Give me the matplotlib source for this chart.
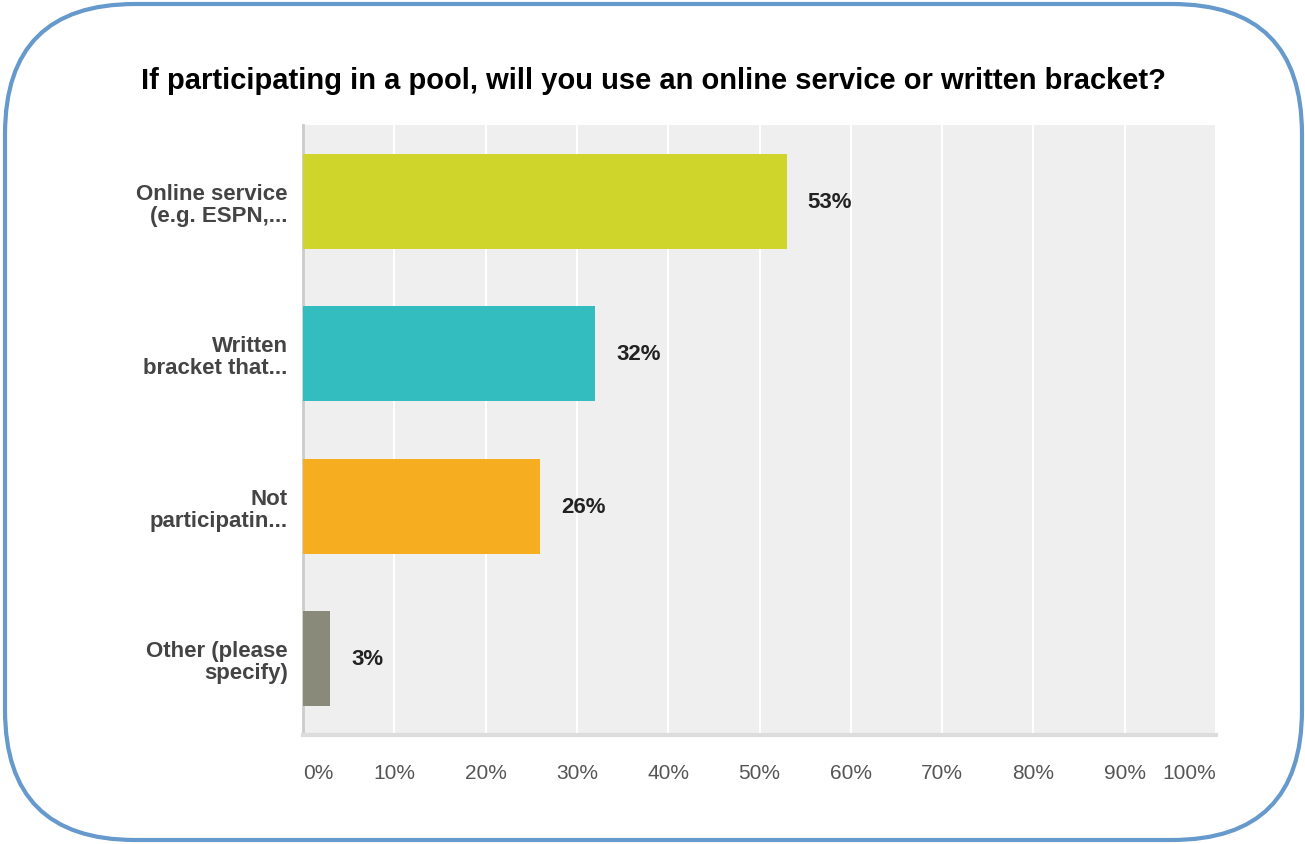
import matplotlib
matplotlib.use('Agg')
import matplotlib.pyplot as plt
from matplotlib.patches import FancyBboxPatch
from matplotlib.ticker import FuncFormatter

# survey answers, top to bottom
answers = ['Online service\n(e.g. ESPN,...', 'Written\nbracket that...',
           'Not\nparticipatin...', 'Other (please\nspecify)']
shares = [53, 32, 26, 3]
bar_colors = ['#cfd52a', '#34bdbf', '#f6ae20', '#8a8a7a']
ticks = [0, 10, 20, 30, 40, 50, 60, 70, 80, 90, 100]

title = 'If participating in a pool, will you use an online service or written bracket?'

W, H = 1305, 845
fig = plt.figure(figsize=(W / 100, H / 100), dpi=100)
plt.rcParams['font.family'] = ['Liberation Sans', 'DejaVu Sans']

# rounded blue frame drawn in pixel units
frame = fig.add_axes([0, 0, 1, 1])
frame.set_xlim(0, W)
frame.set_ylim(0, H)
frame.axis('off')
frame.add_patch(FancyBboxPatch((5, 4), 1297, 836,
                               boxstyle='round,pad=0,rounding_size=130',
                               fc='white', ec='#6699cc', lw=3.0))

ax = fig.add_axes([303 / W, 1 - 736 / H, (1216 - 303) / W, (736 - 126) / H])
ax.set_facecolor('#efefef')
pos = list(range(len(answers)))
ax.barh(pos, shares, height=0.625, color=bar_colors, zorder=3)
ax.set_xlim(0, 100)
ax.set_ylim(len(answers) - 0.5, -0.5)

for y, v in zip(pos, shares):
    ax.annotate('{:d}%'.format(v), (v, y), xytext=(15, 0), textcoords='offset points',
                ha='left', va='center', fontsize=16, fontweight='bold', color='#222222', zorder=4)

ax.set_xticks(ticks)
ax.xaxis.set_major_formatter(FuncFormatter(lambda x, p: '{:d}%'.format(int(x))))
ax.grid(axis='x', color='white', lw=1.5, zorder=1)
ax.tick_params(axis='x', length=0, pad=20, labelsize=15, labelcolor='#555555')
labels = ax.get_xticklabels()
labels[0].set_ha('left')
labels[-1].set_ha('right')

ax.set_yticks(pos)
ax.set_yticklabels(answers, fontsize=16, fontweight='bold', color='#444444', linespacing=1.05)
ax.tick_params(axis='y', length=0, pad=11)
for lbl in ax.get_yticklabels():
    lbl.set_ha('right')

for side in ['top', 'right']:
    ax.spines[side].set_visible(False)
ax.spines['left'].set_color('#cccccc')
ax.spines['bottom'].set_color('#dddddd')
ax.spines['left'].set_linewidth(2)
ax.spines['bottom'].set_linewidth(3)

fig.text(653 / W, 1 - 81 / H, title, ha='center', va='center',
         fontsize=21, fontweight='bold', color='black')

fig.savefig('out.png', dpi=100)
